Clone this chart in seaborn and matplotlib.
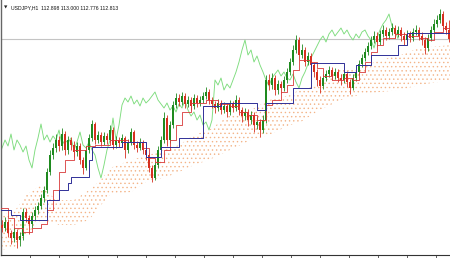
import numpy as np
import pandas as pd
import matplotlib
matplotlib.use("Agg")
import matplotlib.pyplot as plt
import seaborn as sns

# ---------------- data ----------------
symbol_label = "USDJPY,H1"
last_ohlc = ["112.898", "113.000", "112.776", "112.813"]
bid_price = 112.813

first_open = 110.95
closes = [
    110.92, 110.98, 110.87, 110.82, 110.88, 110.80, 110.84, 111.08, 111.02, 110.96,
    111.04, 111.10, 111.14, 111.22, 111.30, 111.48, 111.65, 111.72, 111.80, 111.74,
    111.86, 111.70, 111.80, 111.75, 111.68, 111.74, 111.60, 111.52, 111.70, 111.82,
    111.96, 111.80, 111.85, 111.78, 111.84, 111.80, 111.90, 111.75, 111.80, 111.77,
    111.82, 111.70, 111.78, 111.88, 111.75, 111.72, 111.78, 111.70, 111.65, 111.52,
    111.42, 111.55, 111.70, 111.80, 112.02, 111.80, 111.95, 112.15, 112.22, 112.18,
    112.24, 112.16, 112.20, 112.14, 112.22, 112.17, 112.20, 112.24, 112.28, 112.20,
    112.16, 112.12, 112.17, 112.10, 112.14, 112.08, 112.16, 112.12, 112.20, 112.10,
    112.04, 112.08, 112.00, 112.05, 111.95, 111.98, 111.90, 112.00, 112.40, 112.35,
    112.42, 112.30, 112.36, 112.32, 112.40, 112.48, 112.58, 112.70, 112.80, 112.65,
    112.70, 112.58, 112.64, 112.55, 112.48, 112.40, 112.34, 112.42, 112.46, 112.50,
    112.44, 112.48, 112.42, 112.40, 112.46, 112.38, 112.32, 112.42, 112.48, 112.56,
    112.62, 112.68, 112.74, 112.80, 112.84, 112.78, 112.86, 112.90, 112.84, 112.88,
    112.92, 112.86, 112.90, 112.84, 112.80, 112.86, 112.82, 112.88, 112.90, 112.84,
    112.80, 112.72, 112.82, 112.90, 112.96, 113.00, 113.06, 112.94, 112.898, 112.813,
]
highs = [
    111.00, 111.03, 111.01, 110.90, 110.93, 110.91, 110.88, 111.12, 111.12, 111.05,
    111.08, 111.14, 111.18, 111.26, 111.34, 111.52, 111.70, 111.77, 111.86, 111.84,
    111.92, 111.89, 111.84, 111.83, 111.79, 111.78, 111.77, 111.63, 111.74, 111.86,
    112.00, 111.98, 111.89, 111.88, 111.88, 111.87, 111.95, 111.93, 111.84, 111.83,
    111.86, 111.84, 111.81, 111.92, 111.90, 111.79, 111.82, 111.80, 111.73, 111.67,
    111.55, 111.58, 111.74, 111.84, 112.08, 112.05, 111.99, 112.19, 112.27, 112.26,
    112.28, 112.27, 112.24, 112.23, 112.26, 112.25, 112.24, 112.28, 112.33, 112.31,
    112.23, 112.19, 112.21, 112.20, 112.18, 112.17, 112.20, 112.19, 112.25, 112.23,
    112.13, 112.12, 112.11, 112.09, 112.08, 112.03, 112.01, 112.05, 112.45, 112.46,
    112.47, 112.45, 112.40, 112.39, 112.44, 112.52, 112.62, 112.75, 112.85, 112.83,
    112.76, 112.73, 112.68, 112.67, 112.58, 112.51, 112.44, 112.46, 112.50, 112.54,
    112.53, 112.52, 112.51, 112.46, 112.50, 112.49, 112.41, 112.46, 112.52, 112.60,
    112.66, 112.72, 112.78, 112.84, 112.89, 112.88, 112.90, 112.95, 112.93, 112.92,
    112.97, 112.95, 112.94, 112.93, 112.88, 112.90, 112.89, 112.92, 112.95, 112.93,
    112.88, 112.83, 112.86, 112.94, 113.01, 113.05, 113.11, 113.09, 112.98, 113.000,
]
lows = [
    110.88, 110.89, 110.83, 110.76, 110.78, 110.72, 110.74, 110.80, 110.98, 110.86,
    110.92, 111.00, 111.06, 111.11, 111.18, 111.27, 111.45, 111.61, 111.68, 111.69,
    111.70, 111.65, 111.66, 111.70, 111.63, 111.64, 111.56, 111.46, 111.50, 111.67,
    111.79, 111.76, 111.77, 111.74, 111.75, 111.76, 111.78, 111.71, 111.72, 111.73,
    111.74, 111.62, 111.67, 111.75, 111.71, 111.68, 111.70, 111.66, 111.60, 111.48,
    111.38, 111.40, 111.52, 111.67, 111.77, 111.74, 111.77, 111.92, 112.12, 112.14,
    112.15, 112.12, 112.13, 112.10, 112.11, 112.13, 112.14, 112.17, 112.21, 112.16,
    112.12, 112.07, 112.09, 112.06, 112.07, 112.03, 112.05, 112.08, 112.09, 112.05,
    111.98, 112.00, 111.94, 111.96, 111.88, 111.91, 111.83, 111.87, 111.97, 112.30,
    112.31, 112.25, 112.26, 112.27, 112.29, 112.37, 112.45, 112.55, 112.67, 112.60,
    112.62, 112.54, 112.55, 112.50, 112.43, 112.34, 112.27, 112.31, 112.39, 112.43,
    112.40, 112.41, 112.38, 112.35, 112.37, 112.33, 112.26, 112.30, 112.39, 112.45,
    112.53, 112.59, 112.65, 112.71, 112.77, 112.74, 112.75, 112.83, 112.80, 112.81,
    112.85, 112.82, 112.83, 112.79, 112.75, 112.77, 112.78, 112.79, 112.85, 112.80,
    112.75, 112.66, 112.69, 112.79, 112.87, 112.93, 112.97, 112.90, 112.86, 112.776,
]

# Ichimoku lines (bar index, price)
tenkan_idx = [-1, 2, 4, 7, 10, 13, 15, 17, 19, 21, 24, 28, 31, 36, 42, 47, 49, 51, 54, 56,
              58, 60, 63, 68, 72, 76, 79, 82, 85, 88, 90, 93, 95, 97, 99, 103, 105, 107, 110,
              114, 117, 119, 121, 123, 125, 127, 131, 135, 139, 142, 144, 147, 150]
tenkan_val = [111.12, 111.02, 110.92, 110.88, 110.92, 110.96, 111.10, 111.30, 111.48, 111.60,
              111.70, 111.74, 111.75, 111.80, 111.78, 111.72, 111.62, 111.58, 111.70, 111.80,
              111.95, 112.08, 112.17, 112.20, 112.16, 112.14, 112.08, 112.05, 112.00, 112.15,
              112.20, 112.28, 112.35, 112.50, 112.60, 112.58, 112.52, 112.44, 112.40, 112.42,
              112.40, 112.48, 112.58, 112.68, 112.75, 112.82, 112.86, 112.84, 112.82, 112.80,
              112.88, 112.92, 112.92]

kijun_idx = [-1, 3, 6, 15, 19, 22, 23, 29, 30, 40, 48, 53, 59, 67, 73, 85, 88, 97, 103,
             114, 118, 123, 132, 135, 150]
kijun_val = [111.10, 111.05, 111.00, 111.20, 111.30, 111.37, 111.43, 111.60, 111.73, 111.78,
             111.63, 111.73, 111.82, 112.14, 112.17, 112.10, 112.17, 112.32, 112.57,
             112.48, 112.55, 112.65, 112.75, 112.87, 112.87]

cloud_idx = [-1, 4, 8, 13, 16, 19, 24, 29, 33, 36, 43, 49, 54, 59, 64, 69, 76, 83, 89, 96,
             99, 106, 113, 119, 126, 133, 139, 150]
cloud_top = [111.05, 111.08, 111.25, 111.35, 111.25, 111.20, 111.20, 111.30, 111.40, 111.52,
             111.60, 111.65, 111.70, 111.75, 111.85, 111.90, 112.05, 112.10, 112.20, 112.25,
             112.30, 112.35, 112.52, 112.52, 112.60, 112.65, 112.72, 112.75]
cloud_bottom = [110.70, 110.72, 110.85, 111.00, 110.98, 110.95, 110.95, 111.00, 111.15, 111.25,
                111.28, 111.40, 111.42, 111.48, 111.55, 111.60, 111.70, 111.80, 111.85, 111.95,
                111.97, 112.10, 112.20, 112.25, 112.28, 112.30, 112.35, 112.40]

chikou_shift = 17

# ---------------- plotting ----------------
sns.set_theme(style="white")
plt.rcParams["font.family"] = ["DejaVu Sans"]
plt.rcParams["hatch.linewidth"] = 0.5

n = len(closes)
idx = np.arange(n)
opens = [first_open] + closes[:-1]
df = pd.DataFrame({"i": idx, "open": opens, "high": highs, "low": lows, "close": closes})
df["bull"] = df["close"] >= df["open"]

bull_col = "#1f8a1f"
bear_col = "#d63020"

fig = plt.figure(figsize=(4.5, 2.58), dpi=100)
fig.patch.set_facecolor("white")
ax = fig.add_axes([1 / 450, 3 / 258, 449 / 450, 255 / 258])
ax.set_facecolor("white")

# Kumo (cloud)
ax.fill_between(cloud_idx, cloud_bottom, cloud_top, facecolor="none",
                edgecolor="#f3b488", hatch="....", linewidth=0, zorder=1)

# bid line
ax.axhline(bid_price, color="#c4c4c4", lw=0.8, zorder=1.5)

# Chikou span
chik = pd.DataFrame({"x": idx - chikou_shift, "y": closes})
sns.lineplot(data=chik, x="x", y="y", ax=ax, color="#7ddc7d", lw=0.65, zorder=2)

# candles
cols = np.where(df["bull"], bull_col, bear_col)
ax.vlines(df["i"], df["low"], df["high"], colors=cols, lw=0.6, zorder=3)
body_h = (df["close"] - df["open"]).abs().clip(lower=0.008)
body_b = df[["open", "close"]].min(axis=1)
ax.bar(df["i"], body_h, bottom=body_b, width=0.55, color=cols, linewidth=0, zorder=3)

# Tenkan & Kijun
ten = pd.DataFrame({"x": tenkan_idx, "y": tenkan_val})
kij = pd.DataFrame({"x": kijun_idx, "y": kijun_val})
sns.lineplot(data=ten, x="x", y="y", ax=ax, color="#d83838", lw=0.6,
             drawstyle="steps-post", zorder=4)
sns.lineplot(data=kij, x="x", y="y", ax=ax, color="#303098", lw=0.7,
             drawstyle="steps-post", zorder=4)

ax.set_xlim(-1 / 3, (450 - 2) / 3)
ax.set_ylim(110.65, 113.20)
ax.set_xlabel("")
ax.set_ylabel("")

tick_px = np.arange(30, 450, 29)
ax.set_xticks((tick_px - 2) / 3)
ax.set_yticks([])
ax.tick_params(axis="x", bottom=True, length=2.5, width=0.6, color="#444444",
               direction="out", labelbottom=False, pad=0)
for s in ["top", "right"]:
    ax.spines[s].set_visible(False)
ax.spines["left"].set_color("#666666")
ax.spines["left"].set_linewidth(1.0)
ax.spines["bottom"].set_color("#333333")
ax.spines["bottom"].set_linewidth(0.8)

# header
ax.text(0.006, 0.972, "\u25BC", transform=ax.transAxes, fontsize=3.2,
        color="#222222", va="center", ha="left")
ax.text(0.022, 0.970, f"{symbol_label}  " + " ".join(last_ohlc), transform=ax.transAxes,
        fontsize=3.7, color="#111111", va="center", ha="left",
        family=["Liberation Sans", "DejaVu Sans"])

fig.savefig("out.png", dpi=100, facecolor="white")
